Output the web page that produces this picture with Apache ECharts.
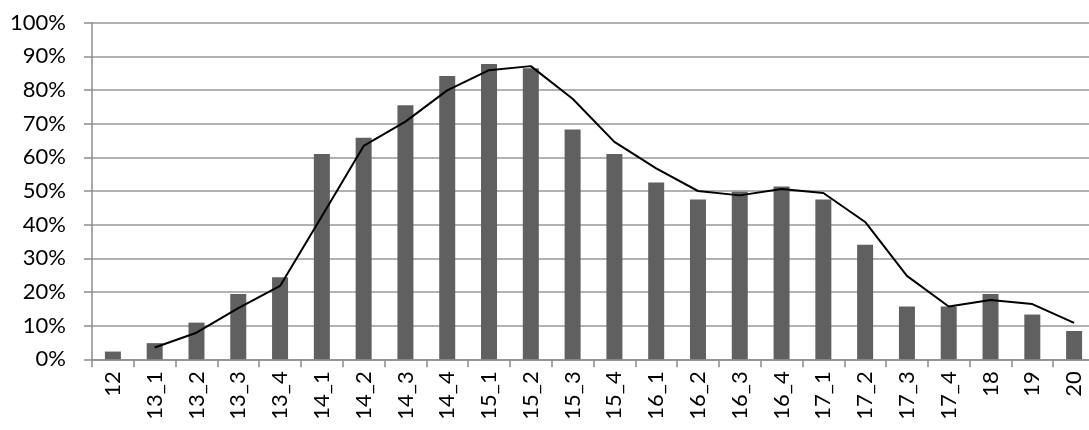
<!DOCTYPE html>
<html>
<head>
<meta charset="utf-8">
<script src="https://cdn.jsdelivr.net/npm/echarts@6/dist/echarts.min.js"></script>
<style>
html,body{margin:0;padding:0;background:#fff;}
#chart{width:1089px;height:430px;}
</style>
</head>
<body>
<div id="chart"></div>
<script>
const categories = ['12','13_1','13_2','13_3','13_4','14_1','14_2','14_3','14_4','15_1','15_2','15_3','15_4','16_1','16_2','16_3','16_4','17_1','17_2','17_3','17_4','18','19','20'];
const barValues = [2.3, 4.8, 10.9, 19.4, 24.4, 61.0, 65.8, 75.5, 84.2, 87.7, 86.5, 68.3, 61.0, 52.5, 47.5, 49.8, 51.3, 47.5, 34.0, 15.7, 15.7, 19.4, 13.3, 8.4];
const lineValues = [null, 3.5, 7.9, 15.2, 21.8, 42.5, 63.4, 70.6, 79.9, 85.9, 87.1, 77.4, 64.6, 56.7, 50.0, 48.7, 50.6, 49.4, 40.8, 24.8, 15.7, 17.6, 16.4, 10.8];
const yTicks = { min: 0, max: 100, interval: 10 };

const font = 'Lato, "Liberation Sans", sans-serif';
const chart = echarts.init(document.getElementById('chart'), null, { renderer: 'canvas' });
chart.setOption({
  animation: false,
  backgroundColor: '#ffffff',
  grid: { left: 92, top: 22.7, bottom: 70.7, width: 1003, outerBoundsMode: 'none', containLabel: false },
  xAxis: {
    type: 'category',
    data: categories,
    axisLine: { show: true, lineStyle: { color: '#8c8c8c', width: 1.5 } },
    axisTick: { show: true, length: 8, lineStyle: { color: '#8c8c8c', width: 1.5 } },
    axisLabel: { rotate: 90, margin: 12, color: '#000', fontSize: 22, fontFamily: font, interval: 0 },
    splitLine: { show: false }
  },
  yAxis: {
    type: 'value',
    min: yTicks.min, max: yTicks.max, interval: yTicks.interval,
    axisLine: { show: true, lineStyle: { color: '#8c8c8c', width: 1.5 } },
    axisTick: { show: true, length: 8, lineStyle: { color: '#8c8c8c', width: 1.5 } },
    axisLabel: { formatter: '{value}%', color: '#000', fontSize: 22, fontFamily: font, margin: 26 },
    splitLine: { show: true, lineStyle: { color: '#999999', width: 1.5 } }
  },
  series: [
    {
      type: 'bar',
      data: barValues,
      barWidth: 16,
      itemStyle: { color: '#606060' },
      z: 2
    },
    {
      type: 'line',
      data: lineValues,
      symbol: 'none',
      smooth: false,
      connectNulls: false,
      lineStyle: { color: '#000000', width: 2 },
      z: 3
    }
  ]
});
</script>
</body>
</html>
